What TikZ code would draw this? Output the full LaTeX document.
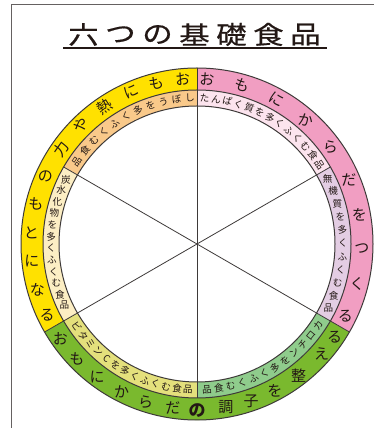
\documentclass[tikz,border=0pt]{standalone}
\usepackage{fontspec}
\newfontfamily\jp{Noto Sans CJK JP}
\newfontfamily\jpt[FakeBold=0.5]{Noto Sans CJK JP}
\definecolor{ink}{HTML}{3E3A39}
\definecolor{txt}{HTML}{231815}
\definecolor{oyellow}{HTML}{FFE100}
\definecolor{opink}{HTML}{F19EC2}
\definecolor{ogreen}{HTML}{7AB92E}
\definecolor{iorange}{HTML}{F9C98A}
\definecolor{ipink}{HTML}{FCE4EE}
\definecolor{ilav}{HTML}{E3CDE3}
\definecolor{icream}{HTML}{FCEEC4}
\definecolor{iyel}{HTML}{E4E07C}
\definecolor{igreen}{HTML}{8FCC8C}
\newcommand\annsec[5]{\fill[#1] (#2:#4) arc[start angle=#2, end angle=#3, radius=#4] -- (#3:#5) arc[start angle=#3, end angle=#2, radius=#5] -- cycle;}
\begin{document}
\begin{tikzpicture}[x=1pt,y=1pt,
  big/.style={font=\jp\fontsize{15}{15}\selectfont, inner sep=0pt, text=txt},
  small/.style={font=\jp\fontsize{9.6}{10}\selectfont, inner sep=0pt, text=txt},
  ttl/.style={font=\jpt\fontsize{25}{25}\selectfont, inner sep=0pt, text=txt},
  ringline/.style={draw=ink, line width=1pt},
  spoke/.style={draw=ink, line width=0.8pt},
  framel/.style={draw=ink!80, line width=1pt}]
\useasboundingbox (0,0) rectangle (374,428);
\fill[white] (0,0) rectangle (374,428);
% frame
\coordinate (fa) at (11,0);
\coordinate (fb) at (11,423);
\coordinate (fc) at (374,423);
\draw[framel] (fa) -- (fb) -- (fc);
% title
\foreach \c [count=\i] in {六,つ,の,基,礎,食,品} {
  \node[ttl] (t\i) at ({46.5+37*\i},393.5) {\scalebox{1.22}[1]{\c}};
}
\coordinate (ua) at (63,380);
\coordinate (ub) at (327,380);
\draw[txt, line width=1.2pt] (ua) -- (ub);
\begin{scope}[shift={(197,184)}]
% outer band
\annsec{oyellow}{90}{210}{176}{154}
\annsec{ogreen}{210}{330}{176}{154}
\annsec{opink}{-30}{90}{176}{154}
% inner band
\annsec{iorange}{90}{150}{154}{138}
\annsec{icream}{150}{210}{154}{138}
\annsec{iyel}{210}{270}{154}{138}
\annsec{igreen}{270}{330}{154}{138}
\annsec{ilav}{-30}{30}{154}{138}
\annsec{ipink}{30}{90}{154}{138}
\coordinate (O) at (0,0);
\draw[ringline] (O) circle[radius=176];
\draw[ringline] (O) circle[radius=154];
\draw[ringline] (O) circle[radius=138];
\foreach \a in {90,210,330} {\coordinate (e\a) at (\a:176);}
\foreach \a in {30,150,270} {\coordinate (e\a) at (\a:154);}
\foreach \a in {30,90,150,210,270,330} {\draw[spoke] (O) -- (e\a);}
% outer texts
\foreach \a/\r/\c [count=\i] in {95/5/お,104/14/も,113.5/23.5/に,124/34/熱,134.5/44.5/や,145/55/力,156/0/の,166/0/も,176/0/と,186/0/に,196/0/な,205.5/0/る} {
  \node[big, rotate=\r] (oy\i) at (\a:166) {\c};
}
\foreach \a/\r/\c [count=\i] in {86.5/-3.5/お,74/-16/も,61/-29/に,48.5/-10/か,36/0/ら,23/0/だ,10/0/を,-1.5/0/つ,-14/0/く,-26/0/る} {
  \node[big, rotate=\r] (op\i) at (\a:165) {\c};
}
\foreach \a/\c [count=\i] in {214.6/お,223.6/も,233/に,243/か,252/ら,261.6/だ,280/調,289/子,298/を,307.8/整,318.6/え,326/る} {
  \node[big] (og\i) at (\a:166) {\c};
}
\node[big, font=\jp\bfseries\fontsize{17}{17}\selectfont] (ogno) at (270:167) {の};
% inner texts
\foreach \c [count=\i] in {た,ん,ぱ,く,質,を,多,く,ふ,く,む,食,品} {
  \pgfmathsetmacro\a{87-(\i-1)*4.5}
  \pgfmathsetmacro\r{\a-90}
  \node[small, rotate=\r] (ip\i) at (\a:146) {\c};
}
\foreach \c [count=\i] in {し,ぼ,う,を,多,く,ふ,く,む,食,品} {
  \pgfmathsetmacro\a{92.7+(\i-1)*5.28}
  \pgfmathsetmacro\r{\a-90}
  \node[small, rotate=\r] (io\i) at (\a:146) {\c};
}
\foreach \c [count=\i] in {炭,水,化,物,を,多,く,ふ,く,む,食,品} {
  \pgfmathsetmacro\a{153.8+(\i-1)*4.64}
  \node[small] (ic\i) at (\a:146) {\c};
}
\foreach \c [count=\i] in {無,機,質,を,多,く,ふ,く,む,食,品} {
  \pgfmathsetmacro\a{26.4-(\i-1)*5.23}
  \node[small] (il\i) at (\a:146) {\c};
}
\foreach \c [count=\i] in {ビ,タ,ミ,ン,C,を,多,く,ふ,く,む,食,品} {
  \pgfmathsetmacro\a{214.5+(\i-1)*4.33}
  \pgfmathsetmacro\r{\a+90}
  \node[small, rotate=\r] (iy\i) at (\a:146) {\c};
}
\foreach \c [count=\i] in {カ,ロ,チ,ン,を,多,く,ふ,く,む,食,品} {
  \pgfmathsetmacro\a{326-(\i-1)*4.74}
  \pgfmathsetmacro\r{\a+90}
  \node[small, rotate=\r] (ig\i) at (\a:146) {\c};
}
\end{scope}
\end{tikzpicture}
\end{document}
